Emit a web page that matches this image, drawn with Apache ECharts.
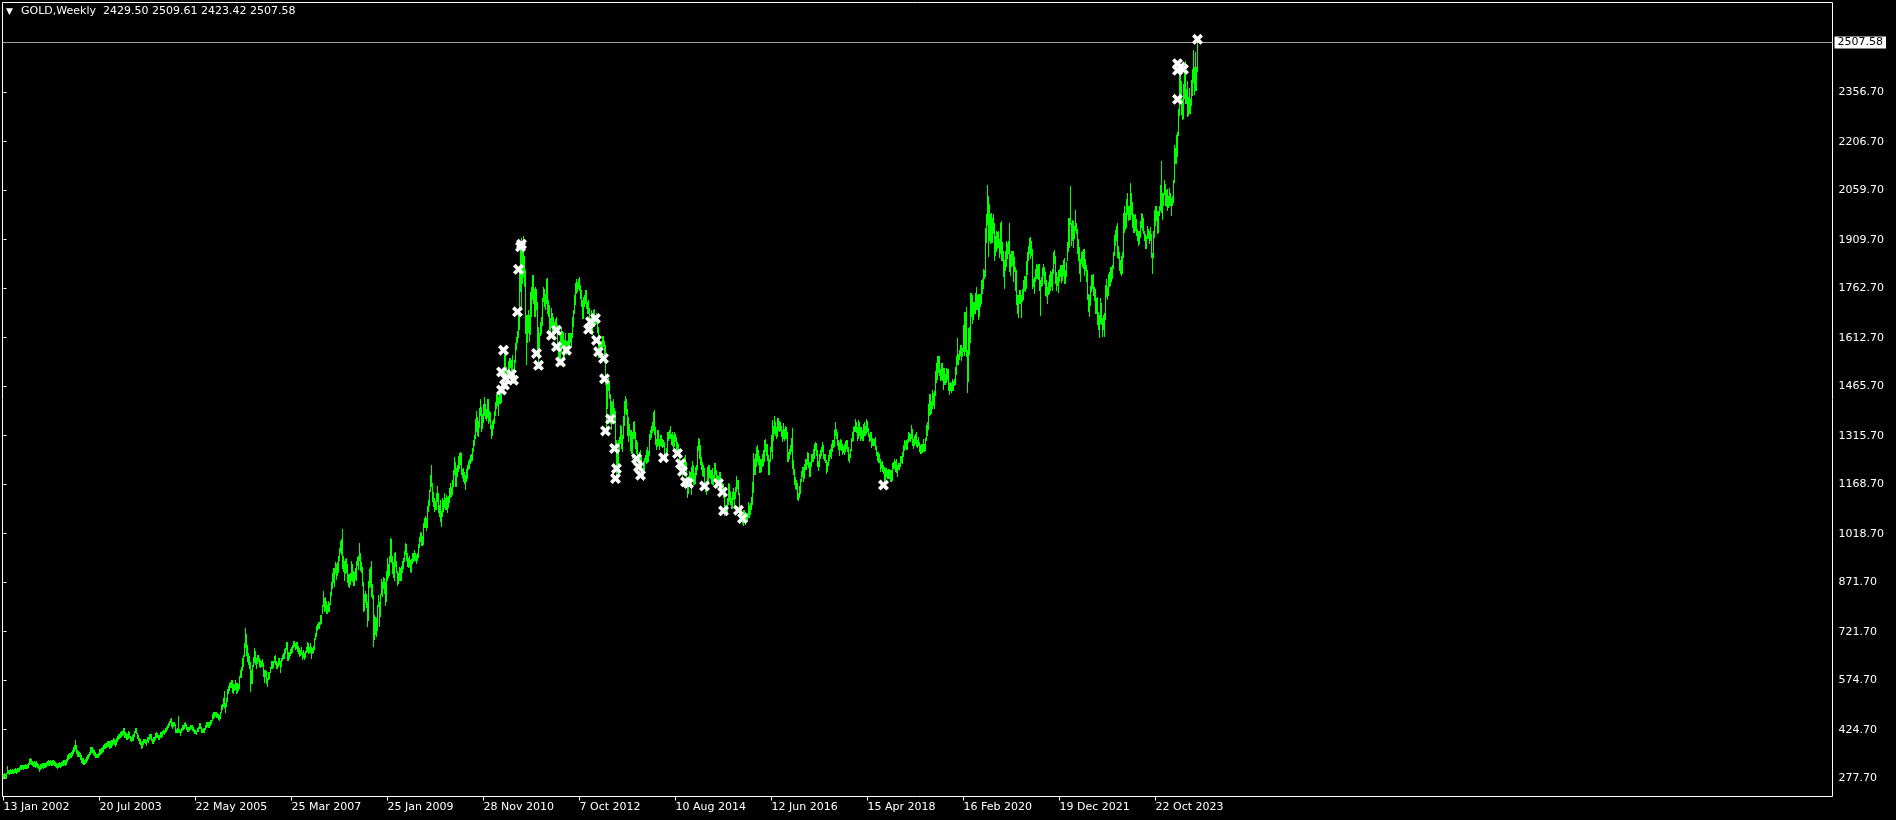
<!DOCTYPE html>
<html><head><meta charset="utf-8">
<script src="https://cdn.jsdelivr.net/npm/echarts@6/dist/echarts.min.js"></script>
<style>html,body{margin:0;padding:0;background:#000;overflow:hidden}#c{width:1896px;height:820px}</style>
</head><body><div id="c"></div>
<script>
// ---------- header / ticks ----------
const symbolName = 'GOLD';
const timeframe = 'Weekly';
const lastBarOHLC = [2429.50, 2509.61, 2423.42, 2507.58];
const lastPrice = 2507.58;
const priceTicks = [277.70, 424.70, 574.70, 721.70, 871.70, 1018.70, 1168.70, 1315.70, 1465.70, 1612.70, 1762.70, 1909.70, 2059.70, 2206.70, 2356.70];
const dateTickIndex = [0, 96, 192, 288, 384, 480, 576, 672, 768, 864, 960, 1056, 1152];
const dateTickLabels = ['13 Jan 2002', '20 Jul 2003', '22 May 2005', '25 Mar 2007', '25 Jan 2009', '28 Nov 2010', '7 Oct 2012', '10 Aug 2014', '12 Jun 2016', '15 Apr 2018', '16 Feb 2020', '19 Dec 2021', '22 Oct 2023'];

// ---------- weekly bars [low, high] ----------
const gold2002 = [[280,289],[282,291],[281,290],[283,292],[296,314],[294,302],[293,300],[295,303],[294,301],[296,303],
[295,302],[297,305],[298,307],[296,304],[299,308],[300,307],[301,309],[306,315],[308,316],[309,317],
[307,315],[309,317],[310,318],[309,316],[311,319],[314,323],[322,333],[325,336],[323,334],[318,329],
[315,326],[317,328],[313,325],[315,327],[312,322],[309,319],[302,312],[308,318],[311,320],[313,322],
[311,321],[314,323],[313,322],[315,325],[318,328],[320,330],[319,329],[321,332],[318,328],[320,331],
[322,331],[319,329],[315,325],[312,322],[311,320],[313,323],[315,324],[314,323],[316,326],[318,328],
[320,330],[322,332],[320,331],[323,333],[332,345],[338,350],[341,353],[343,354]];
const gold2003 = [[344,356],[350,362],[355,370],[362,378],[368,393],[356,378],[348,362],[346,358],[345,356],[338,352],
[328,346],[325,338],[322,336],[321,331],[324,334],[329,340],[334,346],[340,350],[345,357],[353,371],
[358,372],[359,370],[354,366],[349,362],[344,356],[342,351],[343,350],[342,352],[350,366],[354,366],
[356,367],[359,372],[362,376],[370,381],[372,384],[373,384],[376,390],[378,390],[372,388],[373,388],
[375,392],[380,391],[385,398],[382,395],[378,392],[384,397],[393,404],[398,409],[401,410],[405,417],
[406,418],[409,418]];
const gold2004 = [[412,427],[405,427],[405,415],[398,413],
[397,410],[400,419],[404,417],[394,405],[393,402],
[395,408],[395,410],[408,420],[420,428],
[417,428],[402,414],[395,407],[385,398],
[384,394],[372,386],[375,388],[384,394],[388,396],
[385,395],[381,392],[392,402],[390,400],
[397,410],[400,410],[394,410],[385,395],
[385,400],[392,402],[398,412],[405,415],[404,412],
[398,407],[398,407],[405,416],[404,415],
[408,420],[415,423],[414,421],[420,429],[421,432],
[428,437],[435,442],[440,449],[449,456],
[438,458],[432,445],[438,446],[440,446]];
const gold2005 = [[420,440],[418,425],[420,429],[418,466],[419,426],
[410,422],[418,428],[426,436],[428,438],
[432,444],[438,446],[427,441],[423,432],
[423,430],[424,432],[428,437],[430,437],
[425,436],[422,432],[415,425],[415,422],[414,420],
[421,429],[421,432],[430,442],[431,442],
[418,432],[418,425],[420,428],[418,429],[428,438],
[434,446],[438,448],[435,446],[434,446],
[441,454],[448,454],[455,472],[462,476],
[465,476],[470,478],[466,478],[465,474],[460,472],
[455,468],[463,478],[480,497],[490,500],
[497,520],[495,541],[480,505],[498,518]];
const gold2006 = [[513,546],[538,557],[547,565],[555,569],[556,575],
[540,573],[538,561],[548,562],[550,573],
[538,565],[540,566],[546,563],[553,585],
[585,603],[586,613],[607,640],[619,650],[649,685],
[677,730],[654,714],[634,681],[625,655],
[614,648],[542,628],[568,605],[568,618],
[620,645],[630,670],[625,663],[614,640],[628,650],
[633,651],[618,640],[617,633],[618,632],
[620,637],[590,625],[571,603],[590,605],
[568,602],[560,580],[580,598],[584,598],[600,612],
[613,630],[612,630],[615,631],[630,648],
[625,650],[614,631],[614,625],[620,640]];
const gold2007 = [[626,640],[602,630],[620,640],[637,651],[645,657],
[645,668],[660,672],[670,690],[638,690],
[637,660],[645,660],[652,668],[660,673],
[661,680],[678,692],[680,693],[670,685],[675,688],
[665,690],[660,677],[651,670],[652,665],
[655,675],[640,660],[648,664],[640,656],
[648,663],[662,673],[665,690],[660,685],[662,675],
[662,687],[642,673],[658,672],[661,676],
[670,702],[702,715],[709,738],[728,743],[735,749],
[734,750],[746,770],[750,772],[780,800],
[800,845],[785,822],[790,825],[780,812],
[780,800],[785,812],[785,806],[806,839]];
const gold2008 = [[833,870],[855,899],[874,914],[861,914],[900,932],
[882,926],[895,930],[904,950],[940,975],
[965,995],[960,1000],[915,1032],[908,950],[880,935],
[902,939],[905,945],[875,925],[862,895],
[860,895],[868,898],[880,935],[876,925],
[865,905],[865,900],[882,913],[880,935],
[925,948],[912,950],[940,988],[910,960],[903,930],
[865,915],[786,870],[790,835],[812,845],[798,835],
[740,810],[760,875],[860,910],[862,915],
[830,935],[825,865],[681,830],[700,770],
[715,765],[710,762],[728,800],[800,830],[740,810],
[770,835],[838,880],[830,870],[855,885]];
const gold2009 = [[840,882],[805,870],[815,905],[880,945],
[890,925],[895,950],[938,1005],[935,1002],
[900,950],[890,930],[880,960],[922,963],[905,934],
[865,905],[870,898],[880,915],[880,913],
[880,918],[903,935],[915,945],[938,965],[960,990],
[940,985],[923,958],[920,945],[922,950],
[908,938],[905,940],[932,960],[937,960],
[940,968],[940,960],[930,952],[940,960],[950,985],
[980,1008],[998,1022],[985,1020],[985,1010],
[990,1050],[1040,1065],[1040,1070],[1030,1064],
[1040,1100],[1090,1120],[1108,1150],[1150,1195],[1165,1226],
[1120,1170],[1105,1145],[1090,1125],[1095,1115]];
const gold2010 = [[1095,1140],[1120,1162],[1085,1140],[1075,1105],[1060,1120],
[1045,1085],[1073,1125],[1090,1120],[1100,1140],
[1096,1125],[1095,1135],[1087,1127],[1100,1130],
[1115,1155],[1130,1170],[1135,1160],[1140,1180],
[1165,1210],[1200,1250],[1165,1235],[1166,1215],[1195,1225],
[1210,1252],[1220,1262],[1230,1265],[1200,1262],
[1192,1212],[1180,1215],[1175,1205],[1155,1195],
[1180,1213],[1190,1225],[1215,1237],[1220,1245],[1235,1255],
[1242,1260],[1245,1277],[1270,1300],[1290,1316],
[1310,1365],[1330,1388],[1320,1370],[1315,1360],[1345,1398],
[1380,1425],[1330,1400],[1340,1380],[1360,1410],
[1380,1432],[1370,1410],[1365,1395],[1375,1424]];
const gold2011 = [[1355,1424],[1362,1390],[1340,1385],[1310,1347],[1320,1360],
[1340,1365],[1355,1390],[1380,1415],[1400,1440],
[1410,1445],[1380,1430],[1415,1447],[1415,1440],
[1420,1475],[1450,1478],[1480,1510],[1505,1575],
[1462,1577],[1480,1522],[1478,1510],[1500,1540],[1520,1550],
[1525,1550],[1515,1545],[1500,1560],[1478,1515],
[1483,1545],[1540,1595],[1580,1612],[1600,1632],[1615,1685],
[1640,1815],[1755,1880],[1705,1913],[1780,1885],
[1800,1920],[1770,1860],[1627,1815],[1535,1680],
[1600,1680],[1630,1695],[1605,1680],[1625,1750],[1680,1765],
[1730,1800],[1720,1800],[1680,1760],[1680,1765],
[1700,1760],[1570,1720],[1523,1645]];
const gold2012 = [[1562,1625],[1622,1660],[1628,1675],[1652,1730],[1725,1764],
[1710,1760],[1700,1745],[1720,1790],[1690,1792],
[1680,1725],[1640,1710],[1628,1670],[1650,1700],
[1612,1685],[1635,1675],[1625,1660],[1640,1667],[1635,1675],
[1576,1650],[1540,1595],[1550,1600],[1530,1627],
[1575,1640],[1590,1630],[1560,1628],[1555,1605],
[1580,1625],[1565,1600],[1570,1600],[1565,1625],[1590,1625],
[1600,1625],[1590,1625],[1615,1675],[1650,1695],
[1690,1740],[1715,1777],[1750,1790],[1755,1780],[1765,1790],
[1760,1795],[1733,1770],[1710,1755],[1675,1725],
[1675,1735],[1710,1740],[1720,1755],[1705,1755],
[1690,1720],[1690,1725],[1630,1700],[1648,1670]];
const gold2013 = [[1640,1695],[1625,1680],[1655,1695],[1650,1697],[1655,1680],
[1660,1685],[1630,1680],[1555,1645],[1555,1620],
[1560,1600],[1575,1600],[1590,1617],[1590,1617],
[1540,1600],[1475,1590],[1321,1480],[1400,1470],[1455,1490],
[1430,1480],[1355,1440],[1338,1420],[1375,1416],
[1380,1424],[1368,1398],[1270,1390],[1180,1300],
[1208,1268],[1235,1300],[1275,1310],[1295,1348],[1280,1345],
[1270,1315],[1310,1375],[1350,1420],[1385,1433],
[1383,1425],[1320,1395],[1300,1370],[1320,1350],[1275,1330],
[1266,1330],[1250,1325],[1310,1355],[1310,1360],
[1280,1325],[1265,1300],[1240,1295],[1230,1260],
[1210,1265],[1220,1270],[1190,1255],[1195,1216]];
const gold2014 = [[1182,1237],
[1212,1248],[1240,1256],[1235,1270],[1238,1280],
[1240,1268],[1260,1320],[1308,1332],[1312,1345],
[1327,1355],[1335,1385],[1323,1392],[1291,1340],[1277,1305],
[1285,1330],[1290,1331],[1277,1305],[1290,1316],
[1285,1315],[1284,1305],[1285,1300],[1245,1295],
[1240,1260],[1250,1278],[1265,1325],[1305,1325],[1310,1332],
[1310,1345],[1292,1320],[1290,1325],[1280,1315],
[1285,1324],[1300,1320],[1270,1310],[1275,1295],[1262,1290],
[1230,1270],[1215,1240],[1206,1230],[1183,1218],
[1200,1230],[1220,1250],[1224,1255],[1161,1234],
[1131,1175],[1145,1190],[1175,1208],[1170,1205],[1142,1220],
[1190,1238],[1170,1225],[1172,1200],[1175,1218]];
const gold2015 = [[1200,1225],[1217,1282],[1275,1307],[1251,1303],
[1230,1285],[1216,1250],[1197,1235],[1195,1225],
[1166,1215],[1150,1170],[1142,1178],[1174,1219],[1178,1225],
[1193,1224],[1190,1210],[1175,1210],[1170,1215],
[1170,1195],[1183,1232],[1200,1232],[1182,1210],[1162,1196],
[1170,1193],[1175,1205],[1168,1205],[1162,1187],
[1146,1170],[1130,1167],[1077,1135],[1085,1104],
[1080,1103],[1085,1125],[1110,1170],[1118,1168],[1110,1147],
[1097,1125],[1098,1145],[1124,1157],[1106,1145],
[1128,1160],[1150,1191],[1160,1180],[1140,1180],
[1085,1142],[1075,1095],[1065,1090],[1052,1080],[1046,1090],
[1065,1088],[1050,1082],[1065,1080],[1058,1080]];
const gold2016 = [[1071,1112],[1072,1105],[1080,1110],[1096,1127],[1110,1175],
[1146,1263],[1200,1245],[1200,1260],[1225,1280],
[1239,1285],[1232,1270],[1208,1252],[1208,1245],
[1210,1245],[1224,1260],[1228,1270],[1240,1300],
[1270,1305],[1260,1290],[1245,1288],[1200,1255],[1200,1245],
[1242,1280],[1270,1315],[1250,1362],[1305,1345],
[1325,1375],[1320,1355],[1310,1340],[1315,1367],
[1335,1367],[1330,1358],[1335,1357],[1315,1345],[1300,1330],
[1310,1353],[1305,1335],[1310,1345],[1310,1340],
[1240,1326],[1241,1265],[1250,1275],[1262,1285],[1270,1307],
[1220,1337],[1200,1240],[1171,1212],[1160,1190],
[1157,1180],[1124,1170],[1122,1140],[1130,1162]];
const gold2017 = [[1145,1182],[1180,1207],[1195,1220],[1180,1219],[1190,1227],
[1216,1244],[1215,1245],[1232,1264],[1223,1263],
[1195,1235],[1195,1233],[1225,1260],[1240,1260],
[1240,1274],[1250,1290],[1275,1296],[1258,1292],[1226,1270],
[1214,1236],[1225,1260],[1250,1270],[1260,1280],
[1270,1296],[1250,1285],[1243,1260],[1236,1260],
[1205,1240],[1210,1235],[1228,1256],[1245,1270],[1255,1275],
[1250,1290],[1270,1300],[1283,1300],[1285,1330],
[1320,1357],[1310,1335],[1290,1325],[1277,1300],
[1260,1295],[1278,1305],[1275,1300],[1262,1290],[1267,1284],
[1263,1290],[1270,1297],[1280,1300],[1270,1300],
[1245,1280],[1236,1260],[1253,1275],[1275,1308]];
const gold2018 = [[1301,1325],[1305,1340],[1330,1345],[1330,1366],[1328,1355],
[1305,1340],[1310,1362],[1320,1357],[1303,1340],
[1310,1340],[1305,1330],[1305,1350],[1320,1356],
[1320,1345],[1325,1365],[1330,1358],[1315,1338],[1302,1320],
[1305,1326],[1282,1325],[1288,1306],[1288,1303],
[1290,1305],[1278,1310],[1260,1282],[1245,1265],
[1238,1265],[1236,1260],[1211,1245],[1220,1235],[1210,1236],
[1205,1225],[1160,1220],[1185,1215],[1195,1215],
[1190,1210],[1190,1212],[1190,1212],[1180,1210],
[1180,1210],[1183,1232],[1220,1235],[1220,1245],[1210,1238],
[1207,1245],[1196,1225],[1215,1230],[1215,1232],
[1225,1252],[1236,1252],[1235,1265],[1255,1285]];
const gold2019 = [[1275,1300],[1280,1298],[1277,1300],[1276,1305],[1298,1326],
[1305,1322],[1302,1318],[1310,1346],[1290,1335],
[1280,1303],[1290,1312],[1295,1320],[1285,1325],
[1282,1300],[1288,1310],[1270,1295],[1266,1286],[1265,1290],
[1268,1290],[1272,1303],[1270,1290],[1275,1306],
[1305,1348],[1320,1355],[1338,1410],[1380,1440],
[1382,1440],[1385,1420],[1400,1452],[1410,1445],[1400,1450],
[1440,1510],[1480,1535],[1490,1555],[1510,1555],
[1502,1557],[1485,1515],[1490,1535],[1485,1535],
[1460,1520],[1475,1520],[1475,1500],[1480,1518],
[1490,1517],[1455,1515],[1445,1475],[1455,1478],[1450,1475],
[1457,1485],[1455,1480],[1470,1485],[1475,1522]];
const gold2020 = [[1505,1557],[1535,1611],[1535,1563],[1550,1575],[1562,1590],
[1548,1590],[1560,1580],[1575,1650],[1563,1690],
[1575,1690],[1560,1703],[1451,1575],[1482,1640],
[1565,1645],[1600,1747],[1680,1747],[1660,1740],[1670,1720],
[1690,1720],[1690,1748],[1700,1765],[1700,1740],
[1670,1745],[1680,1745],[1710,1745],[1720,1785],[1750,1790],
[1765,1818],[1795,1815],[1800,1945],[1905,1985],
[1960,2075],[1862,2040],[1910,2015],[1900,1985],[1905,1990],
[1905,1975],[1930,1985],[1850,1960],[1865,1920],
[1877,1935],[1885,1930],[1890,1935],[1860,1910],
[1870,1960],[1850,1965],[1850,1900],[1800,1875],[1765,1848],
[1820,1875],[1830,1905],[1855,1897],[1870,1905]];
const gold2021 = [[1817,1960],[1805,1865],[1832,1875],[1835,1875],[1785,1875],
[1815,1855],[1760,1825],[1717,1815],[1690,1740],
[1676,1740],[1718,1755],[1720,1755],[1677,1740],
[1725,1760],[1730,1785],[1760,1798],[1756,1798],
[1765,1845],[1808,1870],[1850,1890],[1870,1913],[1855,1916],
[1865,1904],[1765,1880],[1770,1790],[1750,1795],
[1785,1818],[1795,1835],[1795,1830],[1793,1833],
[1760,1835],[1682,1785],[1770,1795],[1775,1822],[1805,1835],
[1780,1825],[1745,1810],[1740,1787],[1720,1765],
[1746,1780],[1750,1800],[1760,1814],[1770,1810],[1760,1818],
[1810,1870],[1840,1877],[1780,1858],[1760,1810],
[1775,1795],[1752,1815],[1785,1820],[1800,1830]];
const gold2022 = [[1782,1830],[1790,1830],[1805,1848],[1780,1853],[1780,1815],
[1800,1840],[1850,1902],[1878,1975],[1890,1975],
[1960,2070],[1895,1960],[1910,1967],[1890,1966],
[1915,1950],[1940,1998],[1930,1960],[1872,1940],
[1850,1910],[1810,1885],[1787,1850],[1840,1870],[1830,1875],
[1825,1880],[1805,1880],[1820,1850],[1785,1830],
[1730,1815],[1695,1745],[1680,1740],[1713,1768],
[1755,1800],[1765,1802],[1745,1805],[1728,1765],[1688,1760],
[1690,1730],[1655,1735],[1640,1690],[1615,1680],
[1660,1730],[1655,1715],[1618,1670],[1640,1680],[1620,1685],
[1670,1770],[1740,1788],[1730,1765],[1745,1804],
[1772,1810],[1775,1825],[1785,1825],[1795,1830]];
const gold2023 = [[1825,1870],[1865,1922],[1895,1938],[1910,1950],[1860,1960],
[1855,1890],[1820,1870],[1810,1846],[1805,1858],
[1810,1870],[1860,1990],[1935,2010],[1945,1990],
[1950,2032],[1990,2050],[1970,2010],[1975,2010],[1975,2080],
[1990,2050],[1950,2022],[1935,1985],[1935,1983],
[1940,1985],[1925,1972],[1910,1940],[1895,1935],
[1900,1935],[1920,1965],[1950,1988],[1942,1985],[1930,1975],
[1910,1935],[1885,1925],[1885,1920],[1915,1950],
[1915,1940],[1900,1935],[1910,1948],[1858,1925],
[1810,1868],[1860,1935],[1920,1997],[1955,2010],[1970,2010],
[1930,1995],[1935,1995],[1985,2010],[2000,2075],
[1995,2146],[1975,2050],[2015,2050],[2050,2088]];
const gold2024 = [[2015,2078],[2013,2060],[2002,2062],[2010,2040],[2015,2065],
[2015,2050],[1985,2035],[2015,2040],[2025,2088],
[2085,2195],[2145,2185],[2145,2225],[2165,2236],
[2228,2305],[2290,2431],[2325,2417],[2292,2390],[2278,2335],
[2280,2380],[2340,2422],[2325,2450],[2325,2365],
[2287,2388],[2290,2340],[2295,2368],[2295,2335],
[2318,2392],[2350,2425],[2390,2484],[2353,2432],
[2365,2477],[2364,2432],[2423,2510]];

// ---------- white cross markers [bar index, price] ----------
const crossMarks = [[517,1888],[518,1896],[515,1820],[514,1691],[500,1575],[498,1509],[508,1502],[502,1489],[510,1484],[498,1454],[501,1469],
[533,1565],[535,1529],[548,1620],[553,1635],[553,1585],[557,1539],[563,1575],
[587,1661],[592,1671],[585,1638],[593,1605],[595,1570],[600,1550],[601,1488],
[607,1366],[602,1330],[611,1277],[613,1216],[612,1186],
[633,1246],[635,1221],[637,1196],[660,1249],[674,1262],[677,1231],[679,1208],[682,1176],[685,1171],
[701,1163],[715,1171],[719,1145],[720,1088],[735,1090],[739,1065],
[880,1166],
[1174,2443],[1177,2433],[1180,2426],[1174,2423],[1174,2335],[1194,2517]];

const yearBlocks = [gold2002, gold2003, gold2004, gold2005, gold2006, gold2007, gold2008, gold2009, gold2010, gold2011, gold2012, gold2013, gold2014, gold2015, gold2016, gold2017, gold2018, gold2019, gold2020, gold2021, gold2022, gold2023, gold2024];
const bars = [];
yearBlocks.forEach(function (blk) { blk.forEach(function (b) { bars.push([bars.length, b[0], b[1]]); }); });

const FONT = 'DejaVu Sans';
const chart = echarts.init(document.getElementById('c'), null, { renderer: 'canvas', width: 1896, height: 820 });
const crossPath = 'path://M0,2.6 L2.6,0 L5.5,2.9 L8.4,0 L11,2.6 L8.1,5.5 L11,8.4 L8.4,11 L5.5,8.1 L2.6,11 L0,8.4 L2.9,5.5 Z';

chart.setOption({
  backgroundColor: '#000',
  animation: false,
  textStyle: { fontFamily: FONT },
  title: [
    { text: '\u25BC', left: 6, top: 7, padding: 0, textStyle: { color: '#fff', fontSize: 9, fontWeight: 'normal', fontFamily: FONT } },
    { text: symbolName + ',' + timeframe + '  ' + lastBarOHLC.map(function (v) { return v.toFixed(2); }).join(' '),
      left: 21, top: 6, padding: 0, textStyle: { color: '#fff', fontSize: 11, fontWeight: 'normal', fontFamily: FONT } }
  ],
  grid: { left: 2.5, top: 2.5, width: 1830, height: 794, show: true, borderColor: '#fff', borderWidth: 1, backgroundColor: 'transparent' },
  xAxis: {
    type: 'value', min: -1, max: 1829,
    axisLine: { show: false }, splitLine: { show: false },
    axisTick: { show: true, customValues: dateTickIndex, length: 4, lineStyle: { color: '#fff', width: 1 } },
    axisLabel: { show: true, customValues: dateTickIndex, margin: 5, align: 'left', color: '#fff', fontSize: 11, fontFamily: FONT,
      formatter: function (v) { const k = dateTickIndex.indexOf(Math.round(v)); return k >= 0 ? dateTickLabels[k] : ''; } }
  },
  yAxis: {
    type: 'value', position: 'right', min: 222.24, max: 2628.5,
    axisLine: { show: false }, splitLine: { show: false },
    axisTick: { show: true, customValues: priceTicks, length: 3, lineStyle: { color: '#fff', width: 1 } },
    axisLabel: { show: true, customValues: priceTicks, margin: 6, color: '#fff', fontSize: 11, fontFamily: FONT,
      formatter: function (v) { return Number(v).toFixed(2); } }
  },
  series: [
    {
      type: 'custom', name: 'bars', data: bars, encode: { x: 0, y: [1, 2] }, clip: true, silent: true,
      renderItem: function (params, api) {
        const i = api.value(0);
        const pLo = api.coord([i, api.value(1)]);
        const pHi = api.coord([i, api.value(2)]);
        const x = Math.floor(pLo[0]) + 0.5;
        let y1 = Math.ceil(pLo[1]) + 1;
        let y2 = Math.floor(pHi[1]);
        if (y1 - y2 < 2) y1 = y2 + 2;
        return { type: 'line', shape: { x1: x, y1: y1, x2: x, y2: y2 }, style: { stroke: '#00ff00', lineWidth: 1, lineCap: 'butt' } };
      },
      markLine: {
        silent: true, symbol: ['none', 'none'], animation: false,
        lineStyle: { color: '#a0a0a0', width: 1, type: 'solid' },
        label: { show: true, position: 'end', distance: 2, formatter: lastPrice.toFixed(2), color: '#000', backgroundColor: '#fff',
          padding: [1, 3, 0, 3], fontSize: 11, fontFamily: FONT },
        emphasis: { disabled: true },
        data: [{ yAxis: lastPrice }]
      }
    },
    {
      type: 'scatter', name: 'marks', data: crossMarks, symbol: crossPath, symbolSize: 11, silent: true,
      itemStyle: { color: '#ffffff', opacity: 1 }, z: 5
    }
  ]
});
</script>
</body></html>
